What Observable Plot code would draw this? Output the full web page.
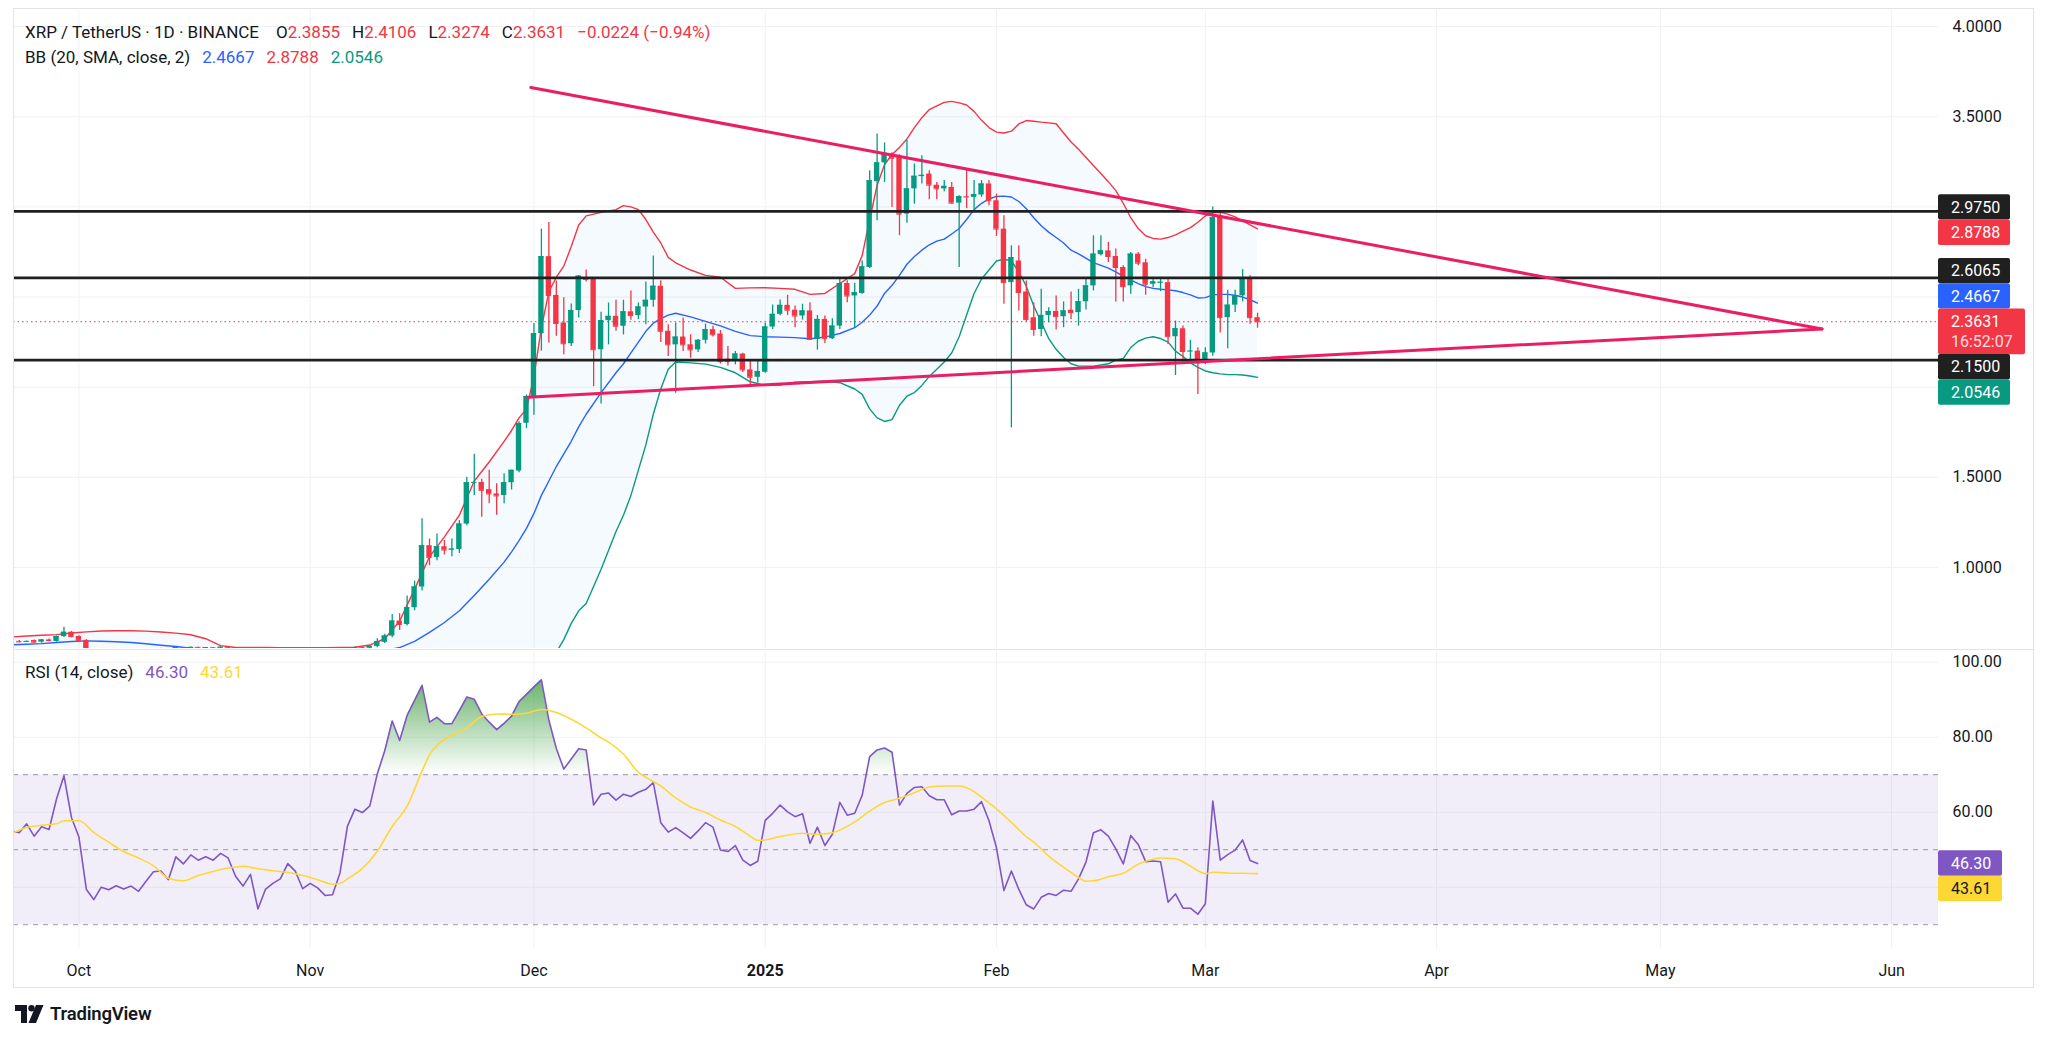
<!DOCTYPE html>
<html>
<head>
<meta charset="utf-8">
<title>XRP / TetherUS 1D</title>
<script src="https://cdn.jsdelivr.net/npm/d3@7"></script>
<script src="https://cdn.jsdelivr.net/npm/@observablehq/plot@0.6"></script>
<style>
html,body{margin:0;padding:0;background:#fff;}
body{width:2048px;height:1040px;overflow:hidden;font-family:Roboto,"Noto Sans",sans-serif;color:#131722;}
#wrap{position:relative;width:2048px;height:1040px;}
#price,#rsi{position:absolute;left:0;}
#price{top:0;}
#rsi{top:650px;}
.frame{position:absolute;left:13px;top:8px;width:2019px;height:978px;border:1px solid #e0e3eb;pointer-events:none;}
.sep{position:absolute;left:13px;width:2020px;height:1px;background:#e0e3eb;}
.legend{position:absolute;left:25px;font-size:17px;line-height:20px;white-space:pre;color:#131722;}
.legend span.g{margin-left:12px;}
.legend span.t{margin-right:5px;}
.dn{color:#f23645;}
#logo{position:absolute;left:15px;top:1003px;display:flex;align-items:center;}
#logo span{font-size:18.5px;font-weight:600;margin-left:6px;color:#131722;letter-spacing:-0.2px;}
</style>
</head>
<body>
<div id="wrap">
  <div id="price"></div>
  <div id="rsi"></div>
  <div class="sep" style="top:649px"></div>
  <div class="frame"></div>
  <div class="legend" id="leg1" style="top:22px"></div>
  <div class="legend" id="leg2" style="top:47px"></div>
  <div class="legend" id="leg3" style="top:662px"></div>
  <div id="logo">
    <svg width="29" height="18" viewBox="0 0 29 18"><path d="M0 0H12V18H6V6H0Z" fill="#131722"/><circle cx="16.5" cy="3.2" r="3.2" fill="#131722"/><path d="M21 0H28.5L21 18H13.5Z" fill="#131722"/></svg>
    <span>TradingView</span>
  </div>
</div>
<script>
// ---------------- DATA ----------------
const symbolTitle = "XRP / TetherUS · 1D · BINANCE";
const bbTitle = "BB (20, SMA, close, 2)";
const rsiTitle = "RSI (14, close)";
const countdown = "16:52:07";
const candleStart = "2024-09-22";

const opens = [0.584,0.590,0.588,0.595,0.586,0.598,0.590,0.617,0.641,0.617,
0.596,0.530,0.520,0.533,0.532,0.536,0.534,0.537,0.532,0.539,
0.546,0.547,0.541,0.556,0.551,0.557,0.553,0.556,0.553,0.558,
0.554,0.541,0.534,0.542,0.515,0.525,0.528,0.531,0.541,0.535,
0.521,0.524,0.519,0.512,0.513,0.527,0.548,0.556,0.552,0.562,
0.585,0.620,0.703,0.684,0.777,0.892,1.121,1.056,1.115,1.097,
1.100,1.241,1.470,1.472,1.432,1.408,1.399,1.470,1.535,1.800,
1.948,2.297,2.724,2.509,2.356,2.241,2.425,2.607,2.600,2.208,
2.369,2.393,2.338,2.418,2.397,2.445,2.482,2.560,2.310,2.235,
2.278,2.235,2.207,2.260,2.319,2.295,2.156,2.152,2.184,2.096,
2.055,2.083,2.334,2.404,2.454,2.427,2.395,2.423,2.265,2.376,
2.269,2.339,2.575,2.506,2.520,2.664,3.140,3.244,3.290,3.280,
2.960,3.100,3.168,3.182,3.120,3.100,3.108,3.021,3.057,3.053,
3.066,3.127,3.034,2.877,2.580,2.700,2.528,2.385,2.320,2.398,
2.420,2.391,2.427,2.414,2.474,2.562,2.735,2.756,2.725,2.664,
2.562,2.738,2.690,2.571,2.579,2.580,2.280,2.324,2.198,2.200,
2.135,2.190,2.950,2.386,2.455,2.507,2.600,2.3855];

const highs = [0.592,0.595,0.592,0.598,0.601,0.603,0.620,0.669,0.646,0.622,
0.600,0.537,0.538,0.539,0.541,0.545,0.541,0.540,0.543,0.549,
0.552,0.551,0.558,0.557,0.559,0.558,0.557,0.557,0.560,0.561,
0.556,0.544,0.546,0.545,0.528,0.531,0.534,0.545,0.543,0.538,
0.530,0.527,0.522,0.518,0.532,0.552,0.560,0.558,0.564,0.605,
0.630,0.740,0.744,0.842,0.925,1.270,1.158,1.186,1.150,1.158,
1.260,1.500,1.628,1.490,1.539,1.464,1.520,1.540,1.808,1.957,
2.353,2.877,2.914,2.589,2.496,2.462,2.620,2.650,2.607,2.416,
2.467,2.482,2.482,2.533,2.467,2.583,2.728,2.590,2.347,2.356,
2.384,2.291,2.264,2.350,2.338,2.314,2.226,2.198,2.189,2.146,
2.152,2.356,2.456,2.484,2.510,2.450,2.460,2.469,2.398,2.395,
2.380,2.600,2.590,2.576,2.700,3.200,3.405,3.355,3.300,3.290,
3.370,3.238,3.284,3.200,3.136,3.146,3.136,3.062,3.210,3.146,
3.146,3.146,3.071,2.951,2.784,2.784,2.589,2.469,2.543,2.441,
2.506,2.473,2.528,2.543,2.608,2.840,2.840,2.803,2.766,2.673,
2.747,2.747,2.710,2.608,2.600,2.604,2.367,2.340,2.260,2.219,
2.219,3.000,2.971,2.538,2.538,2.652,2.618,2.4106];

const lows = [0.578,0.582,0.584,0.580,0.580,0.588,0.586,0.612,0.610,0.590,
0.505,0.510,0.516,0.527,0.528,0.529,0.528,0.526,0.525,0.535,
0.541,0.536,0.538,0.540,0.545,0.547,0.548,0.550,0.549,0.550,
0.536,0.525,0.530,0.505,0.512,0.520,0.518,0.527,0.530,0.516,
0.512,0.514,0.497,0.500,0.508,0.520,0.540,0.545,0.548,0.555,
0.578,0.610,0.650,0.675,0.760,0.870,1.010,1.037,1.070,1.060,
1.078,1.232,1.400,1.279,1.353,1.290,1.353,1.430,1.526,1.770,
1.845,2.200,2.245,2.282,2.180,2.226,2.384,2.583,2.003,1.907,
2.235,2.310,2.290,2.371,2.375,2.347,2.443,2.248,2.170,1.966,
2.198,2.160,2.193,2.240,2.278,2.129,2.118,2.124,2.081,2.003,
2.022,2.078,2.320,2.396,2.398,2.330,2.372,2.261,2.206,2.243,
2.265,2.320,2.469,2.330,2.515,2.658,2.923,3.136,2.997,2.840,
2.910,3.015,3.127,3.040,3.040,3.084,3.016,2.664,2.990,2.984,
3.053,3.006,2.836,2.460,1.774,2.423,2.361,2.283,2.280,2.358,
2.317,2.330,2.376,2.339,2.428,2.534,2.728,2.691,2.473,2.473,
2.515,2.673,2.510,2.552,2.530,2.237,2.065,2.153,2.145,1.959,
2.126,2.172,2.300,2.213,2.414,2.473,2.349,2.3274];

const closes = [0.589,0.588,0.590,0.586,0.598,0.595,0.617,0.641,0.617,0.596,
0.530,0.520,0.533,0.532,0.536,0.534,0.537,0.532,0.539,0.546,
0.547,0.541,0.556,0.551,0.557,0.553,0.556,0.553,0.558,0.554,
0.541,0.534,0.542,0.515,0.525,0.528,0.531,0.541,0.535,0.521,
0.524,0.519,0.512,0.513,0.527,0.548,0.556,0.552,0.562,0.589,
0.620,0.703,0.684,0.777,0.892,1.121,1.056,1.115,1.097,1.102,
1.241,1.470,1.472,1.428,1.408,1.397,1.470,1.539,1.799,1.948,
2.297,2.724,2.509,2.353,2.241,2.425,2.616,2.598,2.208,2.369,
2.393,2.338,2.418,2.397,2.445,2.482,2.560,2.310,2.235,2.278,
2.235,2.207,2.260,2.319,2.291,2.142,2.142,2.184,2.096,2.055,
2.087,2.334,2.404,2.454,2.427,2.395,2.423,2.265,2.376,2.269,
2.339,2.575,2.506,2.524,2.667,3.145,3.244,3.294,3.270,2.960,
3.100,3.170,3.175,3.121,3.100,3.114,3.021,3.057,3.055,3.068,
3.127,3.034,2.877,2.580,2.719,2.525,2.376,2.320,2.398,2.420,
2.391,2.423,2.414,2.474,2.562,2.738,2.756,2.725,2.664,2.558,
2.738,2.688,2.571,2.584,2.582,2.280,2.324,2.198,2.200,2.135,
2.190,2.940,2.386,2.455,2.507,2.600,2.3855,2.3631];

const bbDates = ["2024-09-22","2024-09-24","2024-09-26","2024-09-28","2024-09-30","2024-10-02","2024-10-04","2024-10-06","2024-10-08","2024-10-10",
"2024-10-12","2024-10-14","2024-10-16","2024-10-18","2024-10-20","2024-10-22","2024-10-24","2024-10-26","2024-10-28","2024-10-30",
"2024-11-01","2024-11-03","2024-11-05","2024-11-07","2024-11-09","2024-11-11","2024-11-13","2024-11-15","2024-11-17","2024-11-19",
"2024-11-21","2024-11-23","2024-11-25","2024-11-27","2024-11-28","2024-11-29","2024-11-30","2024-12-01","2024-12-02","2024-12-03",
"2024-12-04","2024-12-05","2024-12-06","2024-12-07","2024-12-08","2024-12-10","2024-12-12","2024-12-13","2024-12-14","2024-12-15",
"2024-12-16","2024-12-17","2024-12-18","2024-12-19","2024-12-20","2024-12-22","2024-12-24","2024-12-26","2024-12-28","2024-12-30",
"2025-01-01","2025-01-03","2025-01-05","2025-01-07","2025-01-09","2025-01-11","2025-01-13","2025-01-14","2025-01-15","2025-01-16",
"2025-01-17","2025-01-18","2025-01-19","2025-01-20","2025-01-21","2025-01-22","2025-01-23","2025-01-24","2025-01-25","2025-01-26",
"2025-01-27","2025-01-28","2025-01-29","2025-01-30","2025-01-31","2025-02-01","2025-02-02","2025-02-03","2025-02-04","2025-02-05",
"2025-02-06","2025-02-07","2025-02-08","2025-02-09","2025-02-10","2025-02-11","2025-02-12","2025-02-14","2025-02-16","2025-02-17",
"2025-02-18","2025-02-19","2025-02-20","2025-02-21","2025-02-22","2025-02-23","2025-02-24","2025-02-25","2025-02-26","2025-02-27",
"2025-02-28","2025-03-01","2025-03-02","2025-03-03","2025-03-04","2025-03-05","2025-03-06","2025-03-07","2025-03-08"];

const bbUpper = [0.615,0.620,0.624,0.628,0.637,0.643,0.648,0.649,0.649,0.647,
0.642,0.636,0.627,0.605,0.567,0.556,0.556,0.556,0.555,0.555,
0.555,0.555,0.556,0.558,0.570,0.605,0.703,0.880,1.060,1.170,
1.290,1.480,1.585,1.700,1.760,1.830,1.880,2.060,2.330,2.530,
2.610,2.672,2.780,2.900,2.950,2.970,2.985,3.007,3.000,2.985,
2.930,2.860,2.800,2.720,2.690,2.650,2.620,2.610,2.548,2.551,
2.552,2.548,2.543,2.515,2.520,2.575,2.630,2.730,2.930,3.120,
3.235,3.290,3.330,3.377,3.440,3.495,3.540,3.560,3.580,3.585,
3.577,3.565,3.530,3.480,3.440,3.415,3.410,3.420,3.460,3.479,
3.475,3.470,3.466,3.461,3.410,3.360,3.320,3.230,3.140,3.090,
3.020,2.940,2.880,2.840,2.825,2.821,2.830,2.845,2.865,2.885,
2.915,2.950,2.968,2.970,2.960,2.945,2.922,2.900,2.8788];

const bbBasis = [0.571,0.574,0.578,0.584,0.590,0.593,0.591,0.588,0.584,0.577,
0.569,0.562,0.553,0.547,0.541,0.538,0.536,0.533,0.530,0.528,
0.526,0.523,0.521,0.522,0.528,0.540,0.556,0.590,0.640,0.695,
0.760,0.845,0.935,1.030,1.087,1.149,1.217,1.300,1.400,1.480,
1.560,1.630,1.700,1.780,1.850,1.970,2.080,2.130,2.190,2.250,
2.310,2.355,2.380,2.400,2.410,2.390,2.365,2.340,2.310,2.286,
2.280,2.278,2.275,2.269,2.278,2.298,2.330,2.360,2.400,2.450,
2.520,2.565,2.620,2.682,2.725,2.760,2.790,2.810,2.821,2.850,
2.880,2.930,2.985,3.020,3.044,3.058,3.060,3.055,3.030,2.990,
2.940,2.895,2.860,2.830,2.800,2.760,2.740,2.691,2.660,2.640,
2.615,2.595,2.575,2.558,2.548,2.543,2.540,2.535,2.525,2.512,
2.495,2.497,2.512,2.515,2.515,2.510,2.500,2.485,2.4667];

const bbLower = [0.527,0.528,0.532,0.540,0.543,0.543,0.534,0.527,0.519,0.507,
0.496,0.488,0.479,0.489,0.515,0.520,0.516,0.510,0.505,0.501,
0.497,0.491,0.486,0.486,0.486,0.475,0.409,0.300,0.220,0.220,
0.230,0.210,0.285,0.360,0.414,0.468,0.540,0.520,0.470,0.470,
0.530,0.600,0.690,0.760,0.800,0.990,1.200,1.290,1.400,1.540,
1.680,1.850,1.990,2.100,2.140,2.135,2.128,2.110,2.080,2.030,
2.010,2.012,2.028,2.030,2.033,2.025,1.990,1.960,1.880,1.830,
1.810,1.820,1.900,1.950,1.970,2.010,2.060,2.100,2.140,2.190,
2.280,2.400,2.520,2.600,2.650,2.700,2.710,2.700,2.640,2.560,
2.450,2.360,2.270,2.210,2.165,2.130,2.117,2.117,2.130,2.150,
2.160,2.220,2.255,2.272,2.280,2.270,2.250,2.200,2.170,2.135,
2.110,2.090,2.080,2.074,2.070,2.070,2.068,2.062,2.0546];

const rsiValues = [55.0,54.5,56.9,53.6,56.1,55.4,63.5,69.7,58.6,53.4,
39.4,36.7,40.0,39.3,40.4,39.5,40.3,38.9,41.6,44.1,
44.3,42.0,48.1,46.2,48.6,47.2,48.1,47.2,49.0,47.8,
42.9,40.3,43.4,34.2,39.4,41.0,42.2,46.3,44.3,39.6,
41.0,39.8,37.8,38.0,43.8,56.3,60.8,59.9,61.7,70.2,
76.4,84.3,79.1,85.8,89.8,93.8,84.0,85.3,83.6,83.6,
87.1,90.7,90.1,86.2,84.0,82.0,83.7,85.6,89.5,91.4,
93.4,95.3,84.5,77.0,71.5,74.2,76.9,76.6,61.9,64.8,
65.1,63.2,64.8,64.2,65.3,66.1,67.9,57.2,54.7,55.9,
54.5,53.0,55.0,57.2,56.0,49.9,49.5,51.1,47.2,45.8,
46.9,57.8,59.7,61.9,60.1,58.8,59.6,51.7,56.0,51.1,
54.1,62.6,59.2,59.7,64.5,74.8,76.6,77.1,76.0,61.9,
65.0,66.6,66.8,64.4,63.3,63.3,59.3,60.3,60.3,60.8,
62.8,57.7,50.5,39.1,44.3,39.4,35.3,34.2,37.3,38.3,
37.8,39.2,38.9,42.2,46.7,54.5,55.3,53.6,50.2,46.2,
53.8,51.4,46.8,47.0,46.8,36.0,38.2,34.4,34.4,32.8,
35.6,63.0,47.2,48.7,49.9,52.6,47.1,46.30];

const rsiMaDates = ["2024-09-22","2024-09-24","2024-09-26","2024-09-28","2024-09-29","2024-10-01","2024-10-03","2024-10-05","2024-10-07","2024-10-09",
"2024-10-11","2024-10-13","2024-10-15","2024-10-17","2024-10-19","2024-10-21","2024-10-23","2024-10-25","2024-10-27","2024-10-29",
"2024-10-31","2024-11-02","2024-11-04","2024-11-05","2024-11-06","2024-11-08","2024-11-10","2024-11-12","2024-11-14","2024-11-16",
"2024-11-17","2024-11-18","2024-11-20","2024-11-22","2024-11-24","2024-11-26","2024-11-28","2024-11-30","2024-12-02","2024-12-04",
"2024-12-06","2024-12-08","2024-12-10","2024-12-11","2024-12-13","2024-12-15","2024-12-16","2024-12-18","2024-12-20","2024-12-22",
"2024-12-24","2024-12-26","2024-12-28","2024-12-30","2024-12-31","2025-01-01","2025-01-03","2025-01-06","2025-01-08","2025-01-10",
"2025-01-13","2025-01-15","2025-01-17","2025-01-19","2025-01-21","2025-01-23","2025-01-25","2025-01-27","2025-01-29","2025-01-30",
"2025-02-01","2025-02-03","2025-02-05","2025-02-06","2025-02-08","2025-02-10","2025-02-12","2025-02-13","2025-02-14","2025-02-16",
"2025-02-18","2025-02-20","2025-02-21","2025-02-23","2025-02-25","2025-02-26","2025-02-27","2025-02-28","2025-03-01","2025-03-02",
"2025-03-04","2025-03-06","2025-03-08"];
const rsiMaValues = [54.3,55.9,56.5,56.9,57.7,57.7,54.6,52.0,49.5,47.8,
45.7,42.4,41.7,43.1,44.2,45.1,45.6,44.9,44.4,43.9,
43.1,42.0,40.8,41.0,42.2,45.0,49.6,56.2,61.6,71.0,
75.3,77.8,80.5,82.5,85.5,86.2,86.1,86.4,87.4,86.6,
84.8,82.5,79.8,78.7,75.5,70.6,69.3,67.0,63.8,61.4,
59.9,57.9,56.2,53.6,52.5,52.6,53.5,54.4,54.1,54.5,
57.4,60.3,62.6,63.7,65.2,66.7,67.0,67.0,65.5,64.0,
60.9,57.3,53.5,52.0,48.3,45.3,42.6,41.6,41.7,42.8,
43.7,46.1,46.9,47.8,47.6,46.8,45.6,44.4,43.6,44.0,
43.8,43.7,43.61];

const levelValues = [2.975, 2.6065, 2.15];
const trendUpperDates = ["2024-11-30T14:00Z", "2025-05-22T16:00Z"];
const trendUpperValues = [3.662, 2.323];
const trendLowerDates = ["2024-11-30T04:00Z", "2025-05-22T16:00Z"];
const trendLowerValues = [1.944, 2.323];
const priceGrid = [1, 1.5, 2, 2.5, 3, 3.5, 4];
const priceTickLabels = [1, 1.5, 3.5, 4];
const rsiGrid = [40, 60, 80, 100];
const rsiTickLabels = [60, 80, 100];
const rsiLevels = [70, 50, 30];
const monthTicks = ["2024-10-01","2024-11-01","2024-12-01","2025-01-01","2025-02-01","2025-03-01","2025-04-01","2025-05-01","2025-06-01"];
const monthLabels = ["Oct","Nov","Dec","2025","Feb","Mar","Apr","May","Jun"];

// ---------------- BUILD ----------------
const UP = "#089981", DOWN = "#f23645", BLUE = "#2962ff", PURPLE = "#7e57c2", YELLOW = "#fdd835", PINK = "#e91e63", DARK = "#202020", GRID = "#f0f1f4";
const DAY = 864e5;
const start = new Date(candleStart);
const candles = opens.map((o, i) => ({date: d3.utcDay.offset(start, i), open: o, high: highs[i], low: lows[i], close: closes[i]}));
const rsiRows = rsiValues.map((v, i) => ({date: d3.utcDay.offset(start, i), rsi: v}));
const rsiMaRows = rsiMaDates.map((d, i) => ({date: new Date(d), ma: rsiMaValues[i]}));
const bbRows = bbDates.map((d, i) => ({date: new Date(d), upper: bbUpper[i], basis: bbBasis[i], lower: bbLower[i]}));
const trendUpper = trendUpperDates.map((d, i) => ({date: new Date(d), v: trendUpperValues[i]}));
const trendLower = trendLowerDates.map((d, i) => ({date: new Date(d), v: trendLowerValues[i]}));
const months = monthTicks.map(d => new Date(d));
const monthName = new Map(months.map((d, i) => [+d, monthLabels[i]]));
const xDomain = [new Date("2024-09-22T05:36Z"), new Date("2025-06-07T06:43Z")];
const col = d => d.close >= d.open ? UP : DOWN;
const bx1 = d => new Date(+d.date - 0.36 * DAY);
const bx2 = d => new Date(+d.date + 0.36 * DAY);

const fmt4 = d3.format(".4f"), fmt2 = d3.format(".2f");
const n = closes.length - 1;
const lastC = candles[n];
const lastBB = bbRows[bbRows.length - 1];

function sideLabels(items, boxH, fontSize) {
  return (index, scales, values, dims) => {
    const x0 = dims.width - dims.marginRight;
    const L = items.map(it => {
      const h = it.sub ? boxH * 1.8 : boxH;
      const y = scales.y(it.value);
      return {...it, h, top: y - boxH / 2};
    }).sort((a, b) => a.top - b.top);
    for (let k = 0; k < 300; k++) {
      let moved = false;
      for (let i = 0; i < L.length - 1; i++) {
        const a = L[i], b = L[i + 1];
        const ov = a.top + a.h - b.top;
        if (ov > 0.01) {
          moved = true;
          if (a.anchor) b.top += ov;
          else if (b.anchor) a.top -= ov;
          else { a.top -= ov / 2; b.top += ov / 2; }
        }
      }
      if (!moved) break;
    }
    const g = d3.create("svg:g").attr("font-size", fontSize).attr("text-anchor", "start");
    for (const it of L) {
      g.append("rect").attr("x", x0).attr("y", it.top).attr("width", it.w).attr("height", it.h).attr("fill", it.bg).attr("rx", 2);
      g.append("text").attr("x", x0 + 13).attr("y", it.top + boxH / 2).attr("dy", "0.35em").attr("fill", it.fg).text(it.text);
      if (it.sub) g.append("text").attr("x", x0 + 13).attr("y", it.top + boxH / 2 + boxH * 0.8).attr("dy", "0.35em").attr("fill", it.fg).attr("fill-opacity", 0.85).text(it.sub);
    }
    return g.node();
  };
}

const priceLabels = [
  ...levelValues.map(v => ({value: v, text: fmt4(v), bg: DARK, fg: "#fff", w: 72})),
  {value: lastBB.upper, text: fmt4(lastBB.upper), bg: DOWN, fg: "#fff", w: 72},
  {value: lastBB.basis, text: fmt4(lastBB.basis), bg: BLUE, fg: "#fff", w: 72},
  {value: lastBB.lower, text: fmt4(lastBB.lower), bg: UP, fg: "#fff", w: 72},
  {value: lastC.close, text: fmt4(lastC.close), sub: countdown, bg: lastC.close >= lastC.open ? UP : DOWN, fg: "#fff", w: 87, anchor: true}
];

const style = {fontFamily: "Roboto, 'Noto Sans', sans-serif", fontSize: "16px", color: "#131722", background: "transparent"};

const pricePlot = Plot.plot({
  width: 2048, height: 650,
  marginLeft: 13, marginRight: 110, marginTop: 10, marginBottom: 2,
  style,
  color: {type: "identity"},
  x: {type: "utc", domain: xDomain, axis: null},
  y: {domain: [0.5508, 4.0893], axis: "right", ticks: priceTickLabels, tickFormat: fmt4, tickSize: 0, tickPadding: 14, label: null},
  marks: [
    Plot.ruleY(priceGrid, {stroke: GRID}),
    Plot.ruleX(months, {stroke: GRID}),
    Plot.areaY(bbRows, {x: "date", y1: "lower", y2: "upper", fill: "#2196f3", fillOpacity: 0.05, clip: true}),
    Plot.line(bbRows, {x: "date", y: "upper", stroke: DOWN, strokeWidth: 1.4, clip: true}),
    Plot.line(bbRows, {x: "date", y: "basis", stroke: BLUE, strokeWidth: 1.4, clip: true}),
    Plot.line(bbRows, {x: "date", y: "lower", stroke: UP, strokeWidth: 1.4, clip: true}),
    Plot.ruleY([lastC.close], {stroke: DOWN, strokeWidth: 1, strokeDasharray: "1.5,3"}),
    Plot.ruleX(candles, {x: "date", y1: "low", y2: "high", stroke: col, strokeWidth: 1.3, clip: true}),
    Plot.rect(candles, {x1: bx1, x2: bx2, y1: "open", y2: "close", fill: col, clip: true}),
    Plot.ruleY(candles, {x1: bx1, x2: bx2, y: "close", stroke: col, strokeWidth: 1, clip: true}),
    Plot.ruleY(levelValues, {stroke: DARK, strokeWidth: 2.6}),
    Plot.line(trendUpper, {x: "date", y: "v", stroke: PINK, strokeWidth: 3}),
    Plot.line(trendLower, {x: "date", y: "v", stroke: PINK, strokeWidth: 3}),
    sideLabels(priceLabels, 25.3, 16)
  ]
});
document.getElementById("price").appendChild(pricePlot);

function overbought(index, scales, values, dims) {
  const g = d3.create("svg:g");
  const y70 = scales.y(70), y100 = scales.y(100);
  const defs = g.append("defs");
  const grad = defs.append("linearGradient").attr("id", "obGrad").attr("gradientUnits", "userSpaceOnUse")
    .attr("x1", 0).attr("x2", 0).attr("y1", y100).attr("y2", y70);
  grad.append("stop").attr("offset", 0).attr("stop-color", "#43a047").attr("stop-opacity", 0.95);
  grad.append("stop").attr("offset", 1).attr("stop-color", "#43a047").attr("stop-opacity", 0);
  defs.append("clipPath").attr("id", "obClip").append("rect")
    .attr("x", dims.marginLeft).attr("y", 0).attr("width", dims.width - dims.marginLeft - dims.marginRight).attr("height", y70);
  const area = d3.area().x(d => scales.x(d.date)).y0(y70).y1(d => scales.y(d.rsi));
  g.append("path").attr("d", area(rsiRows)).attr("fill", "url(#obGrad)").attr("clip-path", "url(#obClip)");
  return g.node();
}

const lastRsi = rsiRows[rsiRows.length - 1].rsi;
const lastMa = rsiMaRows[rsiMaRows.length - 1].ma;
const rsiLabels = [
  {value: lastRsi, text: fmt2(lastRsi), bg: PURPLE, fg: "#fff", w: 64, anchor: true},
  {value: lastMa, text: fmt2(lastMa), bg: YELLOW, fg: "#131722", w: 64}
];

const rsiPlot = Plot.plot({
  width: 2048, height: 341,
  marginLeft: 13, marginRight: 110, marginTop: 1, marginBottom: 43,
  style,
  color: {type: "identity"},
  x: {type: "utc", domain: xDomain, ticks: months, tickFormat: d => monthName.get(+d), tickSize: 0, tickPadding: 16, label: null},
  y: {domain: [23.65, 102.85], axis: "right", ticks: rsiTickLabels, tickFormat: fmt2, tickSize: 0, tickPadding: 14, label: null},
  marks: [
    Plot.ruleY(rsiGrid, {stroke: GRID}),
    Plot.ruleX(months, {stroke: GRID}),
    Plot.rect([0], {x1: () => xDomain[0], x2: () => xDomain[1], y1: () => 30, y2: () => 70, fill: PURPLE, fillOpacity: 0.1}),
    Plot.ruleY(rsiLevels, {stroke: "#787b86", strokeOpacity: 0.75, strokeDasharray: "5,5"}),
    overbought,
    Plot.line(rsiRows, {x: "date", y: "rsi", stroke: PURPLE, strokeWidth: 1.6, clip: true}),
    Plot.line(rsiMaRows, {x: "date", y: "ma", stroke: YELLOW, strokeWidth: 1.6, curve: "monotone-x", clip: true}),
    sideLabels(rsiLabels, 25.5, 16)
  ]
});
document.getElementById("rsi").appendChild(rsiPlot);
d3.select(rsiPlot).selectAll("text").filter(function () { return this.textContent === "2025"; }).attr("font-weight", "bold");

// ---------------- LEGENDS ----------------
const prev = closes[n - 1];
const chg = lastC.close - prev;
const pct = chg / prev * 100;
const dirCls = chg < 0 ? "dn" : "up";
const span = (t, c, extra) => `<span class="${c || ""}"${extra ? ` style="${extra}"` : ""}>${t}</span>`;
document.getElementById("leg1").innerHTML =
  span(symbolTitle, "t") +
  span("O", "g", "margin-left:12px") + span(fmt4(lastC.open), dirCls) +
  span("H", "g") + span(fmt4(lastC.high), dirCls) +
  span("L", "g") + span(fmt4(lastC.low), dirCls) +
  span("C", "g") + span(fmt4(lastC.close), dirCls) +
  span(`${d3.format(".4f")(chg)} (${d3.format(".2f")(pct)}%)`, "g " + dirCls);
document.getElementById("leg2").innerHTML =
  span(bbTitle) +
  span(fmt4(lastBB.basis), "g", `color:${BLUE}`) +
  span(fmt4(lastBB.upper), "g", `color:${DOWN}`) +
  span(fmt4(lastBB.lower), "g", `color:${UP}`);
document.getElementById("leg3").innerHTML =
  span(rsiTitle) +
  span(fmt2(lastRsi), "g", `color:${PURPLE}`) +
  span(fmt2(lastMa), "g", `color:${YELLOW}`);
</script>
</body>
</html>
